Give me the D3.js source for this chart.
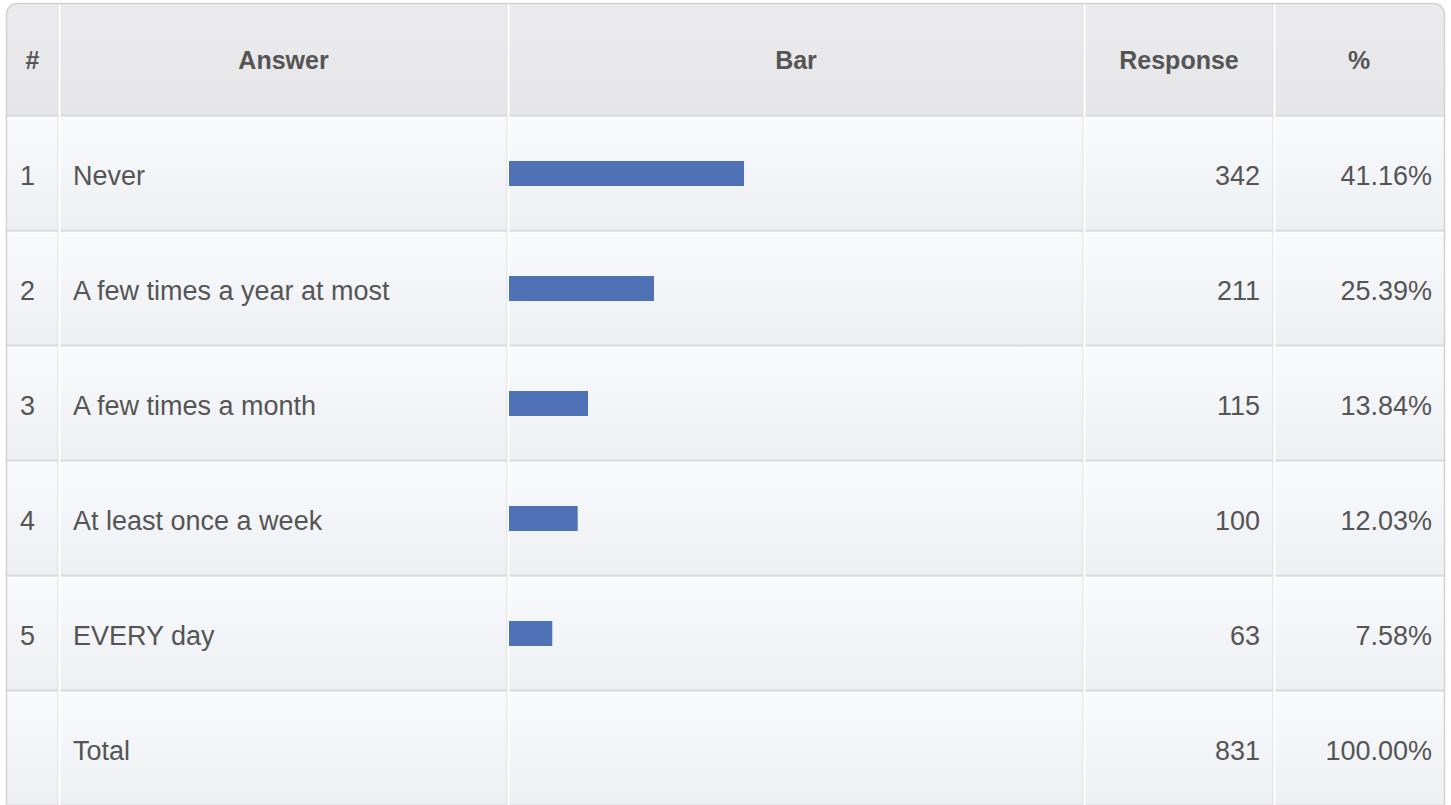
<!DOCTYPE html>
<html>
<head>
<meta charset="utf-8">
<script src="https://cdn.jsdelivr.net/npm/d3@7"></script>
<style>
  html, body { margin: 0; padding: 0; background: #fff; }
  svg { display: block; font-family: "Liberation Sans", Arial, Helvetica, sans-serif; }
</style>
</head>
<body>
<div id="chart"></div>
<script>
// survey data
const answers = ["Never", "A few times a year at most", "A few times a month", "At least once a week", "EVERY day"];
const responses = [342, 211, 115, 100, 63];
const percents = [41.16, 25.39, 13.84, 12.03, 7.58];
const totalResponses = 831;
const totalPercent = "100.00%";
const headers = ["#", "Answer", "Bar", "Response", "%"];

const width = 1451, height = 805;

// column edges
const colEdges = [6, 59, 508, 1084, 1274, 1444];
const headerTop = 4, headerBottom = 117;
const rowH = 115;

const svg = d3.select("#chart").append("svg")
    .attr("width", width)
    .attr("height", height);

const defs = svg.append("defs");
let hg = defs.append("linearGradient").attr("id", "headGrad").attr("x1", 0).attr("y1", 0).attr("x2", 0).attr("y2", 1);
hg.append("stop").attr("offset", "0%").attr("stop-color", "#ebebed");
hg.append("stop").attr("offset", "100%").attr("stop-color", "#e6e6e8");
let bg = defs.append("linearGradient").attr("id", "cellGrad").attr("x1", 0).attr("y1", 0).attr("x2", 0).attr("y2", 1);
bg.append("stop").attr("offset", "0%").attr("stop-color", "#f9fafe");
bg.append("stop").attr("offset", "100%").attr("stop-color", "#eeeff3");

defs.append("clipPath").attr("id", "tableClip")
    .append("rect")
    .attr("x", colEdges[0]).attr("y", headerTop - 1)
    .attr("width", colEdges[5] - colEdges[0]).attr("height", height + 20)
    .attr("rx", 11);

// rows: 5 answers + total
const rowIds = d3.range(answers.length + 1);
const y = d3.scaleBand()
    .domain(rowIds)
    .range([headerBottom, headerBottom + rowH * rowIds.length])
    .padding(0);

const barX = d3.scaleLinear().domain([0, 100]).range([0, 571]);

const table = svg.append("g").attr("clip-path", "url(#tableClip)");

// header cells
for (let c = 0; c < 5; c++) {
    const x0 = colEdges[c], x1 = colEdges[c + 1];
    table.append("rect")
        .attr("x", x0).attr("y", headerTop - 1)
        .attr("width", x1 - x0).attr("height", headerBottom - headerTop + 1)
        .attr("fill", "url(#headGrad)");
}

// body cells
rowIds.forEach(r => {
    for (let c = 0; c < 5; c++) {
        const x0 = colEdges[c], x1 = colEdges[c + 1];
        table.append("rect")
            .attr("x", x0).attr("y", y(r))
            .attr("width", x1 - x0).attr("height", y.bandwidth())
            .attr("fill", "url(#cellGrad)");
    }
});

// grid lines: gray line then white highlight
const lines = table.append("g");
const rowEdges = [headerBottom].concat(rowIds.map(r => y(r) + y.bandwidth()));
rowEdges.forEach(yy => {
    lines.append("line").attr("x1", colEdges[0]).attr("x2", colEdges[5])
        .attr("y1", yy - 1.5).attr("y2", yy - 1.5)
        .attr("stroke", "#dcdcde").attr("stroke-width", 2);
    lines.append("line").attr("x1", colEdges[0]).attr("x2", colEdges[5])
        .attr("y1", yy + 0.5).attr("y2", yy + 0.5)
        .attr("stroke", "#ffffff").attr("stroke-width", 1);
});
colEdges.slice(1, 5).forEach(xx => {
    lines.append("line").attr("x1", xx - 1).attr("x2", xx - 1)
        .attr("y1", headerTop).attr("y2", height + 20)
        .attr("stroke", "#dcdcde").attr("stroke-width", 1);
    lines.append("line").attr("x1", xx + 0.5).attr("x2", xx + 0.5)
        .attr("y1", headerTop).attr("y2", height + 20)
        .attr("stroke", "#ffffff").attr("stroke-width", 2);
});

// outer border
svg.append("rect")
    .attr("x", colEdges[0] + 0.5).attr("y", headerTop - 0.5)
    .attr("width", colEdges[5] - colEdges[0]).attr("height", height + 20)
    .attr("rx", 11)
    .attr("fill", "none")
    .attr("stroke", "#d2d2d4")
    .attr("stroke-width", 1.5);

// header text
const headerY = (headerTop + headerBottom) / 2 + 8;
svg.append("g").selectAll("text")
    .data(headers)
    .join("text")
    .attr("x", (d, i) => (colEdges[i] + colEdges[i + 1]) / 2)
    .attr("y", headerY)
    .attr("text-anchor", "middle")
    .attr("font-weight", "bold")
    .attr("font-size", 25)
    .attr("fill", "#555555")
    .text(d => d);

// body text
const body = svg.append("g").attr("font-size", 27).attr("fill", "#555555");
const textY = r => y(r) + y.bandwidth() / 2 + 10;

answers.forEach((a, i) => {
    body.append("text").attr("x", 20).attr("y", textY(i)).text(i + 1);
    body.append("text").attr("x", 73).attr("y", textY(i)).text(a);
    body.append("text").attr("x", 1260).attr("y", textY(i)).attr("text-anchor", "end").text(responses[i]);
    body.append("text").attr("x", 1432).attr("y", textY(i)).attr("text-anchor", "end").text(percents[i].toFixed(2) + "%");
});

// bars
svg.append("g").selectAll("rect")
    .data(percents)
    .join("rect")
    .attr("x", colEdges[2] + 1)
    .attr("y", (d, i) => y(i) + 44)
    .attr("width", d => barX(d))
    .attr("height", 25)
    .attr("fill", "#4f71b6");

// total row
const tr = answers.length;
body.append("text").attr("x", 73).attr("y", textY(tr)).text("Total");
body.append("text").attr("x", 1260).attr("y", textY(tr)).attr("text-anchor", "end").text(totalResponses);
body.append("text").attr("x", 1432).attr("y", textY(tr)).attr("text-anchor", "end").text(totalPercent);
</script>
</body>
</html>
